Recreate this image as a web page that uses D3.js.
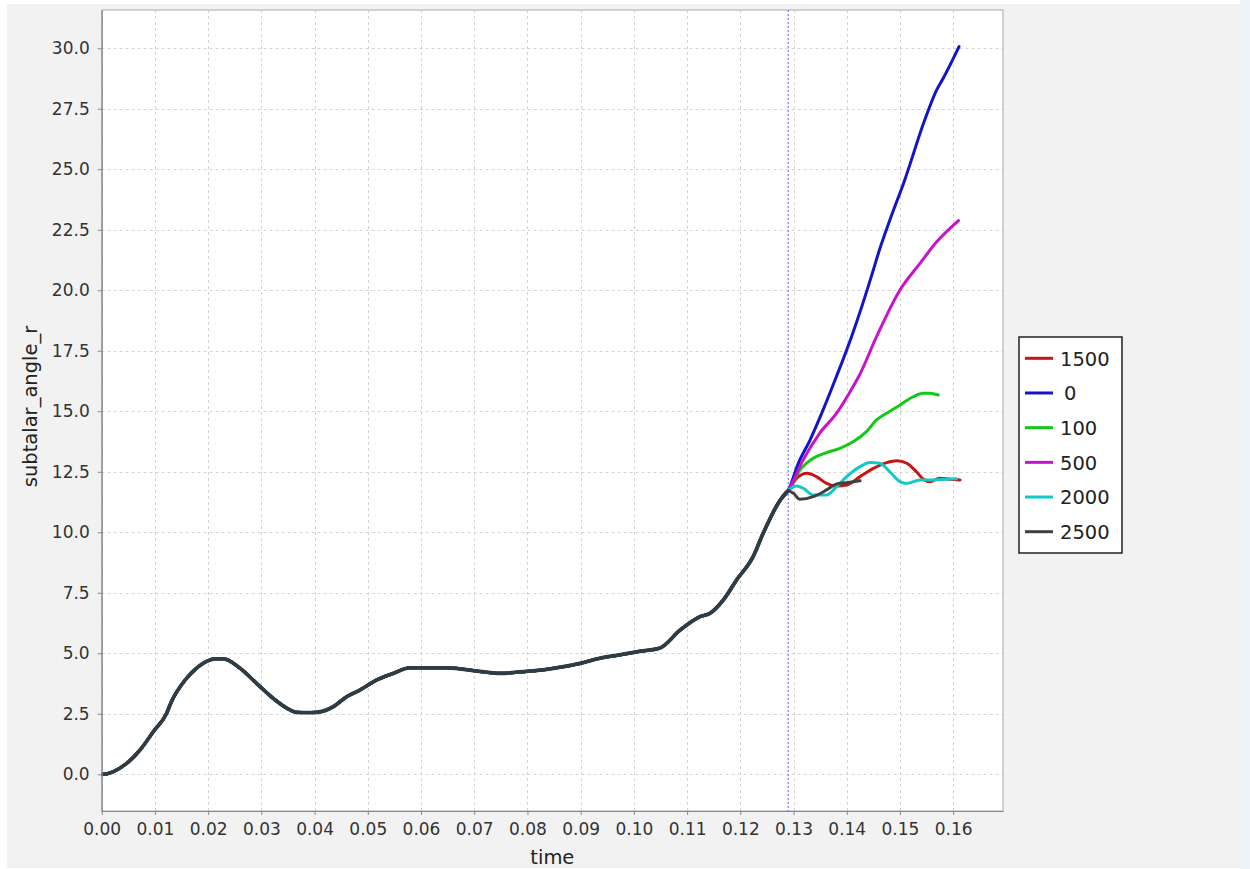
<!DOCTYPE html>
<html>
<head>
<meta charset="utf-8">
<script src="https://cdn.jsdelivr.net/npm/d3@7"></script>
<style>
  html, body { margin: 0; padding: 0; background: #ffffff; }
  svg { display: block; }
  text { font-family: "DejaVu Sans", sans-serif; }
</style>
</head>
<body>
<svg id="chart" width="1250" height="869"></svg>
<script>
// Shared trajectory of subtalar_angle_r before the perturbation time
const sharedTime  = [0, 0.0010, 0.0022, 0.0047, 0.0072, 0.0097, 0.0122, 0.0131, 0.0157, 0.0178, 0.0203, 0.0212, 0.0229,
  0.0260, 0.0291, 0.0322, 0.0348, 0.0366, 0.0385, 0.0404, 0.0435, 0.0460, 0.0485, 0.0517, 0.0548, 0.0579, 0.0620, 0.0650,
  0.0710, 0.0750, 0.0780, 0.0824, 0.0860, 0.0899, 0.0937, 0.0970, 0.1011, 0.1049, 0.1087, 0.1124, 0.1143, 0.1168, 0.1193,
  0.1224, 0.1243, 0.1275, 0.1290];
const sharedAngle = [0, 0.02, 0.11, 0.45, 1.00, 1.76, 2.52, 3.00, 3.90, 4.38, 4.72, 4.77, 4.77,
  4.38, 3.76, 3.14, 2.73, 2.56, 2.55, 2.56, 2.79, 3.20, 3.48, 3.90, 4.17, 4.40, 4.40, 4.40,
  4.25, 4.17, 4.22, 4.30, 4.42, 4.58, 4.80, 4.92, 5.08, 5.22, 5.96, 6.51, 6.65, 7.20, 8.03,
  8.99, 9.96, 11.33, 11.72];

// Branches after the perturbation, one per series
const time1500  = [0.1290, 0.1306, 0.1325, 0.1343, 0.1362, 0.1381, 0.1400, 0.1425, 0.1450, 0.1475, 0.1494, 0.1513, 0.1531, 0.1544, 0.1556, 0.1575, 0.1594, 0.1613];
const angle1500 = [11.72, 12.23, 12.44, 12.30, 12.02, 11.91, 11.95, 12.30, 12.64, 12.88, 12.96, 12.85, 12.50, 12.19, 12.09, 12.23, 12.19, 12.16];

const time0  = [0.1290, 0.1309, 0.1331, 0.1353, 0.1378, 0.1409, 0.1450, 0.1459, 0.1481, 0.1509, 0.1546, 0.1569, 0.1581, 0.1611];
const angle0 = [11.72, 12.85, 13.81, 14.92, 16.29, 18.08, 20.84, 21.50, 22.90, 24.56, 27.00, 28.28, 28.75, 30.07];

const time100  = [0.1290, 0.1312, 0.1337, 0.1362, 0.1387, 0.1412, 0.1437, 0.1456, 0.1475, 0.1500, 0.1525, 0.1544, 0.1556, 0.1572];
const angle100 = [11.72, 12.57, 13.06, 13.29, 13.47, 13.74, 14.16, 14.64, 14.92, 15.26, 15.60, 15.74, 15.74, 15.67];

const time500  = [0.1290, 0.1318, 0.1349, 0.1381, 0.1406, 0.1424, 0.1456, 0.1500, 0.1538, 0.1569, 0.1610];
const angle500 = [11.72, 12.99, 14.09, 14.92, 15.80, 16.50, 18.08, 20.01, 21.12, 22.00, 22.88];

const time2000  = [0.1290, 0.1306, 0.1318, 0.1337, 0.1362, 0.1381, 0.1400, 0.1425, 0.1444, 0.1462, 0.1481, 0.1500, 0.1513, 0.1538, 0.1563, 0.1588, 0.1606];
const angle2000 = [11.72, 11.91, 11.82, 11.54, 11.54, 11.89, 12.30, 12.71, 12.88, 12.85, 12.50, 12.09, 12.02, 12.16, 12.16, 12.19, 12.21];

const time2500  = [0.1290, 0.1300, 0.1312, 0.1337, 0.1362, 0.1381, 0.1399, 0.1425];
const angle2500 = [11.72, 11.61, 11.36, 11.47, 11.75, 12.00, 12.05, 12.13];

const seriesNames = ["1500", "0", "100", "500", "2000", "2500"];
const branchTimes  = [time1500, time0, time100, time500, time2000, time2500];
const branchAngles = [angle1500, angle0, angle100, angle500, angle2000, angle2500];

const xTicks = [0.00, 0.01, 0.02, 0.03, 0.04, 0.05, 0.06, 0.07, 0.08, 0.09, 0.10, 0.11, 0.12, 0.13, 0.14, 0.15, 0.16];
const yTicks = [0.0, 2.5, 5.0, 7.5, 10.0, 12.5, 15.0, 17.5, 20.0, 22.5, 25.0, 27.5, 30.0];
const markerTime = 0.129;

// Styling
const seriesColors = {
  "1500": "#c81414", "0": "#1414c8", "100": "#14c814",
  "500": "#c814c8", "2000": "#14c8c8", "2500": "#404040"
};
const sharedColor = "#2f3c43";

const svg = d3.select("#chart");
const W = 1250, H = 869;
const plot = { left: 101.7, top: 10, right: 1003, bottom: 811 };

// Panel backgrounds
svg.append("rect").attr("x", 0).attr("y", 0).attr("width", W).attr("height", H).attr("fill", "#ffffff");
svg.append("rect").attr("x", 7).attr("y", 4).attr("width", 1233).attr("height", 864).attr("fill", "#f2f2f2");
svg.append("rect").attr("x", 1240).attr("y", 0).attr("width", 10).attr("height", H).attr("fill", "#eef3fa");

const x = d3.scaleLinear().domain([0, 0.16936]).range([plot.left, plot.right]);
const y = d3.scaleLinear().domain([-1.517, 31.58]).range([plot.bottom, plot.top]);

svg.append("rect")
  .attr("x", plot.left).attr("y", plot.top)
  .attr("width", plot.right - plot.left).attr("height", plot.bottom - plot.top)
  .attr("fill", "#ffffff");

// Grid lines
const grid = svg.append("g").attr("stroke", "#d4d4d4").attr("stroke-width", 1).attr("stroke-dasharray", "3,3");
grid.selectAll("line.v").data(xTicks).join("line")
  .attr("x1", d => Math.round(x(d)) + 0.5).attr("x2", d => Math.round(x(d)) + 0.5)
  .attr("y1", plot.top).attr("y2", plot.bottom);
grid.selectAll("line.h").data(yTicks).join("line")
  .attr("y1", d => Math.round(y(d)) + 0.5).attr("y2", d => Math.round(y(d)) + 0.5)
  .attr("x1", plot.left).attr("x2", plot.right);

// Plot outline
svg.append("rect")
  .attr("x", plot.left).attr("y", plot.top)
  .attr("width", plot.right - plot.left).attr("height", plot.bottom - plot.top)
  .attr("fill", "none").attr("stroke", "#a8a8a8").attr("stroke-width", 1);

// Perturbation marker
svg.append("line")
  .attr("x1", x(markerTime)).attr("x2", x(markerTime))
  .attr("y1", plot.top).attr("y2", plot.bottom)
  .attr("stroke", "#5a5aff").attr("stroke-width", 1).attr("stroke-dasharray", "2,2");

// Clip for the data lines
svg.append("clipPath").attr("id", "clip").append("rect")
  .attr("x", plot.left).attr("y", plot.top)
  .attr("width", plot.right - plot.left).attr("height", plot.bottom - plot.top);

const line = d3.line().x(d => x(d[0])).y(d => y(d[1])).curve(d3.curveMonotoneX);
const shared = sharedTime.map((t, i) => [t, sharedAngle[i]]);

const lines = svg.append("g").attr("clip-path", "url(#clip)")
  .attr("fill", "none").attr("stroke-linejoin", "round").attr("stroke-linecap", "round");

seriesNames.forEach((name, k) => {
  const branch = branchTimes[k].map((t, i) => [t, branchAngles[k][i]]);
  lines.append("path")
    .attr("d", line(shared.concat(branch.slice(1))))
    .attr("stroke", seriesColors[name])
    .attr("stroke-width", 3);
});
lines.append("path")
  .attr("d", line(shared))
  .attr("stroke", sharedColor)
  .attr("stroke-width", 3.8);

// Axes
const xAxis = svg.append("g")
  .attr("transform", `translate(0,${plot.bottom})`)
  .call(d3.axisBottom(x).tickValues(xTicks).tickFormat(d3.format(".2f")).tickSize(4).tickSizeOuter(0).tickPadding(8));
const yAxis = svg.append("g")
  .attr("transform", `translate(${plot.left},0)`)
  .call(d3.axisLeft(y).tickValues(yTicks).tickFormat(d3.format(".1f")).tickSize(4).tickSizeOuter(0).tickPadding(8));

[xAxis, yAxis].forEach(g => {
  g.select(".domain").attr("stroke", "#888888").attr("stroke-width", 1.2);
  g.selectAll(".tick line").attr("stroke", "#888888");
  g.selectAll(".tick text").attr("fill", "#333333").style("font-size", "17px")
    .style("font-family", "'DejaVu Sans', sans-serif");
});

// Axis titles
svg.append("text")
  .attr("x", (plot.left + plot.right) / 2).attr("y", 864)
  .attr("text-anchor", "middle").attr("fill", "#222222").style("font-size", "19.5px")
  .text("time");
svg.append("text")
  .attr("transform", `translate(37,${(plot.top + plot.bottom) / 2 - 4}) rotate(-90)`)
  .attr("text-anchor", "middle").attr("fill", "#222222").style("font-size", "19.5px")
  .text("subtalar_angle_r");

// Legend
const legend = svg.append("g");
legend.append("rect")
  .attr("x", 1019).attr("y", 337).attr("width", 103).attr("height", 216)
  .attr("fill", "#ffffff").attr("stroke", "#222222").attr("stroke-width", 1.5);
const rowY = d3.scalePoint().domain(seriesNames).range([358.3, 531.7]);
const rows = legend.selectAll("g.row").data(seriesNames).join("g")
  .attr("transform", d => `translate(0,${rowY(d)})`);
rows.append("line")
  .attr("x1", 1025).attr("x2", 1053).attr("y1", 0).attr("y2", 0)
  .attr("stroke", d => seriesColors[d]).attr("stroke-width", 3);
rows.append("text")
  .attr("x", d => d === "0" ? 1064 : 1060).attr("y", 7.3)
  .attr("fill", "#222222").style("font-size", "19.5px")
  .text(d => d);
</script>
</body>
</html>
